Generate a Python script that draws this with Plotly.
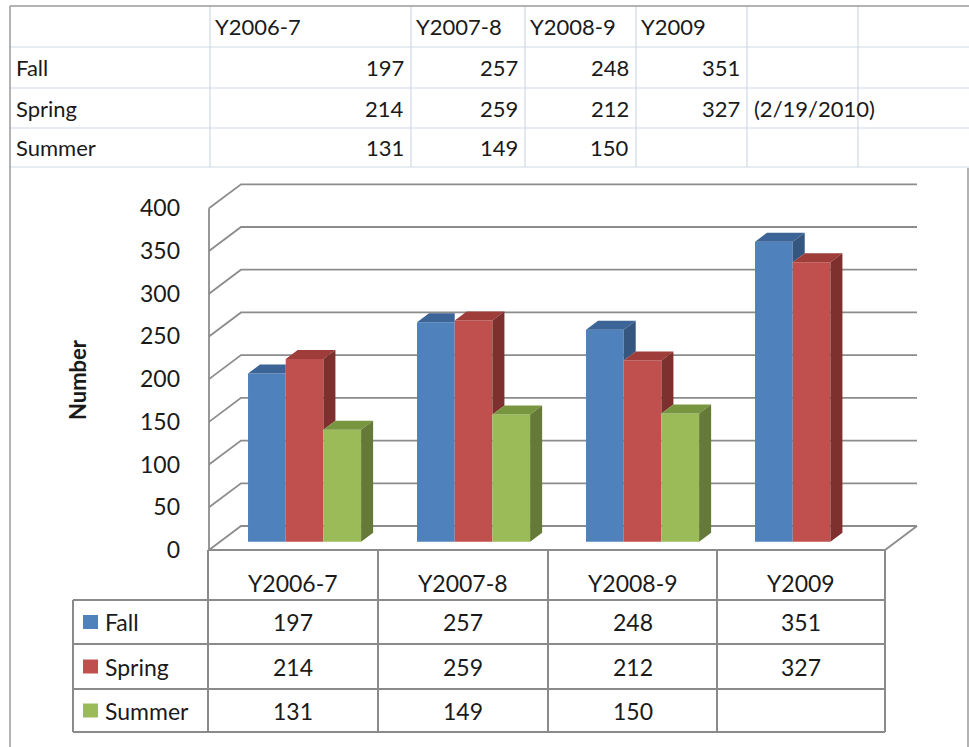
import plotly.graph_objects as go

# ---- data -----------------------------------------------------------------
categories = ["Y2006-7", "Y2007-8", "Y2008-9", "Y2009"]
series_names = ["Fall", "Spring", "Summer"]
fall = [197, 257, 248, 351]
spring = [214, 259, 212, 327]
summer = [131, 149, 150, None]
spring_note = "(2/19/2010)"
y_ticks = [0, 50, 100, 150, 200, 250, 300, 350, 400]

series_values = [fall, spring, summer]
front_colors = ["#4F81BD", "#C0504D", "#9BBB59"]
top_colors = ["#3C6496", "#9E3D3A", "#789540"]
side_colors = ["#34567F", "#7E302E", "#657A38"]

# ---- geometry of the page (pixels) ----------------------------------------
W, H = 969, 747
FONT = "Lato"
TXT = "#1a1a1a"

PX_CAT = 169.0          # width of one category slot on the front floor edge
PX_UNIT = 0.8543        # pixels per value unit
X_FRONT = 209.0         # front-left corner of the floor
Y_FRONT = 550.0         # front edge of the floor
DEPTH_PX = (32.0, 24.0)  # oblique offset of the back wall


def xd(px):
    return -0.5 + (px - X_FRONT) / PX_CAT


def yd(py):
    return (Y_FRONT - py) / PX_UNIT


def XP(px):
    return px / W


def YP(py):
    return 1 - py / H


DX = DEPTH_PX[0] / PX_CAT       # back-wall offset in category units
DY = DEPTH_PX[1] / PX_UNIT      # back-wall offset in value units
BAR_FRONT = 0.346               # depth fraction of the bar fronts
BAR_DEPTH = 0.375               # depth fraction taken by each bar
BAR_W = 37.7 / PX_CAT
BASE = BAR_FRONT * DY
SHIFT = BAR_FRONT * DX
DDX = BAR_DEPTH * DX
DDY = BAR_DEPTH * DY

n_series = len(series_values)

fig = go.Figure()

# front faces of the 3-D columns
for k, (name, vals) in enumerate(zip(series_names, series_values)):
    fig.add_trace(go.Bar(
        x=list(range(len(categories))), y=vals, base=BASE, width=BAR_W,
        offset=SHIFT - 1.5 * BAR_W + k * BAR_W, name=name,
        marker=dict(color=front_colors[k], line=dict(width=0)),
        showlegend=False, hoverinfo="skip",
    ))

# top and side faces, hidden where the neighbouring column covers them
for k, vals in enumerate(series_values):
    top_x, top_y, side_x, side_y = [], [], [], []
    for i, v in enumerate(vals):
        if v is None:
            continue
        nv = series_values[k + 1][i] if k + 1 < n_series else None
        xl = i + SHIFT - 1.5 * BAR_W + k * BAR_W
        xr = xl + BAR_W
        t = BASE + v
        if nv is not None and nv > v:
            tx = [xl, xl + DDX, xr, xr, xl]
        else:
            tx = [xl, xl + DDX, xr + DDX, xr, xl]
        ty = [t, t + DDY, t + DDY, t, t]
        top_x += tx + [None]
        top_y += ty + [None]
        lo = nv if nv is not None else 0
        if nv is None or nv < v:
            b = BASE + lo
            side_x += [xr, xr + DDX, xr + DDX, xr, xr, None]
            side_y += [b, b + DDY, t + DDY, t, b, None]
    fig.add_trace(go.Scatter(x=top_x, y=top_y, fill="toself", mode="none",
                             fillcolor=top_colors[k], showlegend=False,
                             hoverinfo="skip"))
    fig.add_trace(go.Scatter(x=side_x, y=side_y, fill="toself", mode="none",
                             fillcolor=side_colors[k], showlegend=False,
                             hoverinfo="skip"))

shapes = []
GRID = dict(color="#8C8C8C", width=1.8)

# back wall / side wall gridlines
x_left, x_right = -0.5, len(categories) - 0.5
for v in y_ticks:
    shapes.append(dict(
        type="path", xref="x", yref="y", layer="below", line=GRID,
        path=f"M {x_left},{v} L {x_left + DX},{v + DY} L {x_right + DX},{v + DY}",
    ))
# front axis line and floor edges
shapes.append(dict(type="line", xref="x", yref="y", layer="below", line=GRID,
                   x0=x_left, y0=0, x1=x_left, y1=y_ticks[-1]))
shapes.append(dict(type="path", xref="x", yref="y", layer="below", line=GRID,
                   path=f"M {x_left},0 L {x_right},0 L {x_right + DX},{DY}"))

# ---- spreadsheet block above the chart -------------------------------------
CELL = dict(color="#D0D7E5", width=1.2)
FRAME = dict(color="#9A9A9A", width=1.5)
top_cols = [10, 210, 411, 525, 636, 747, 858, 969]
top_rows = [6, 47, 88, 128, 167]
for px in top_cols[1:-1]:
    shapes.append(dict(type="line", xref="paper", yref="paper", line=CELL,
                       x0=XP(px), x1=XP(px), y0=YP(top_rows[0]), y1=YP(top_rows[-1])))
for py in top_rows[1:]:
    shapes.append(dict(type="line", xref="paper", yref="paper", line=CELL,
                       x0=XP(top_cols[0]), x1=XP(W), y0=YP(py), y1=YP(py)))
shapes.append(dict(type="line", xref="paper", yref="paper", line=FRAME,
                   x0=XP(10), x1=XP(W), y0=YP(6), y1=YP(6)))
shapes.append(dict(type="line", xref="paper", yref="paper", line=FRAME,
                   x0=XP(10), x1=XP(10), y0=YP(6), y1=YP(H)))
shapes.append(dict(type="line", xref="paper", yref="paper", line=FRAME,
                   x0=XP(968), x1=XP(968), y0=YP(168), y1=YP(H)))

annotations = []


def text(px, py, s, anchor="left", size=21, bold=False, angle=0):
    annotations.append(dict(
        x=XP(px), y=YP(py), xref="paper", yref="paper", text=f"<b>{s}</b>" if bold else s,
        showarrow=False, xanchor=anchor, yanchor="middle", textangle=angle,
        font=dict(family=FONT, size=size, color=TXT),
    ))


row_mid = [(top_rows[r] + top_rows[r + 1]) / 2 for r in range(4)]
for j, c in enumerate(categories):
    text(top_cols[j + 1] + 3, row_mid[0], c, size=22)
for r, (name, vals) in enumerate(zip(series_names, series_values)):
    text(14, row_mid[r + 1], name, size=22)
    for j, v in enumerate(vals):
        if v is not None:
            text(top_cols[j + 2] - 5, row_mid[r + 1], str(v), anchor="right", size=22)
text(top_cols[5] + 5, row_mid[2], spring_note, size=22)

# ---- data table under the chart --------------------------------------------
TBL = dict(color="#8A8A8A", width=2)
bot_cols = [208, 378, 548, 717, 885]
bot_rows = [550, 600, 644, 689, 732]
KEY_L = 73
for px in bot_cols:
    shapes.append(dict(type="line", xref="paper", yref="paper", line=TBL,
                       x0=XP(px), x1=XP(px), y0=YP(bot_rows[0]), y1=YP(bot_rows[-1])))
shapes.append(dict(type="line", xref="paper", yref="paper", line=TBL,
                   x0=XP(KEY_L), x1=XP(KEY_L), y0=YP(bot_rows[1]), y1=YP(bot_rows[-1])))
for py in bot_rows[1:]:
    shapes.append(dict(type="line", xref="paper", yref="paper", line=TBL,
                       x0=XP(KEY_L), x1=XP(bot_cols[-1]), y0=YP(py), y1=YP(py)))

for j, c in enumerate(categories):
    cx = (bot_cols[j] + bot_cols[j + 1]) / 2
    text(cx, (bot_rows[0] + bot_rows[1]) / 2 + 8, c, anchor="center", size=23)
for r, (name, vals) in enumerate(zip(series_names, series_values)):
    cy = (bot_rows[r + 1] + bot_rows[r + 2]) / 2
    shapes.append(dict(type="rect", xref="paper", yref="paper", line=dict(width=0),
                       fillcolor=front_colors[r],
                       x0=XP(83), x1=XP(98), y0=YP(cy - 7), y1=YP(cy + 7)))
    text(103, cy, name, size=23)
    for j, v in enumerate(vals):
        if v is not None:
            cx = (bot_cols[j] + bot_cols[j + 1]) / 2
            text(cx, cy, str(v), anchor="center", size=23)

# axis title
text(77, 380, "Number", anchor="center", size=22, bold=True, angle=-90)

fig.update_layout(
    width=W, height=H, margin=dict(l=0, r=0, t=0, b=0, pad=0, autoexpand=False),
    paper_bgcolor="white", plot_bgcolor="rgba(0,0,0,0)",
    barmode="overlay", showlegend=False,
    shapes=shapes, annotations=annotations,
    font=dict(family=FONT, color=TXT),
    xaxis=dict(domain=[XP(205), XP(922)], range=[xd(205), xd(922)],
               showgrid=False, zeroline=False, showticklabels=False,
               showline=False, fixedrange=True, automargin=False),
    yaxis=dict(domain=[YP(554), YP(180)], range=[yd(554), yd(180)],
               tickvals=y_ticks, ticktext=[str(v) for v in y_ticks],
               showgrid=False, zeroline=False, showline=False, ticks="",
               ticklabelstandoff=24, tickfont=dict(family=FONT, size=23, color=TXT),
               fixedrange=True, automargin=False),
)

fig.write_html("out.html")
